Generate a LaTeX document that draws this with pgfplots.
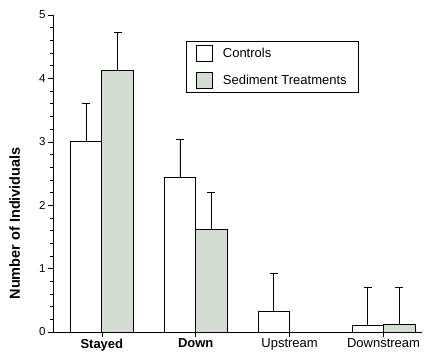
\documentclass[border=0pt]{standalone}
\usepackage{pgfplots}
\pgfplotsset{compat=1.18}
\usepackage{fontspec}
\setmainfont{Liberation Sans}
\definecolor{sedfill}{RGB}{212,219,211}
\begin{document}
\begin{tikzpicture}
\useasboundingbox (-53pt,-22pt) rectangle (375pt,332pt);
\begin{axis}[
  at={(0,0)}, anchor=south west,
  scale only axis,
  width=369pt, height=317pt,
  xmin=-0.52, xmax=3.41,
  ymin=0, ymax=5,
  axis x line=bottom, axis y line=left,
  axis line style={-, line width=0.8pt},
  xtick={0,1,2,3},
  xticklabels={\textbf{Stayed},\textbf{Down},Upstream,Downstream},
  ytick={0,1,2,3,4,5},
  minor y tick num=4,
  tick align=outside,
  major tick length=5pt,
  minor tick length=3pt,
  tick style={black, line width=0.6pt},
  /pgf/number format/assume math mode=true,
  x tick label style={font=\fontsize{13}{15}\selectfont, yshift=1.5pt},
  y tick label style={font=\fontsize{11.5}{13}\selectfont, xshift=1pt},
  ylabel={\textbf{Number of Individuals}},
  ylabel style={at={(axis description cs:-0.104,0.343)}, anchor=center, font=\fontsize{14.5}{16}\selectfont},
  ybar, bar width=0.336, bar shift=0pt,
  legend style={at={(0.36,0.918)}, anchor=north west, draw=black, line width=0.7pt,
    inner xsep=10pt, inner ysep=4pt, row sep=10pt,
    font=\fontsize{13}{15}\selectfont, /tikz/every odd column/.append style={column sep=8pt}},
  legend cell align=left,
  legend image code/.code={\draw[#1, line width=0.7pt] (0pt,-8pt) rectangle (16pt,8pt);},
  error bars/y dir=plus, error bars/y explicit,
  error bars/error mark options={rotate=90, mark size=4pt, line width=0.7pt, black},
  error bars/error bar style={line width=0.7pt, black},
]
\addplot[draw=black, fill=white, line width=0.7pt] coordinates {
  (-0.168,3.00) +- (0,0.60)
  (0.832,2.44) +- (0,0.60)
  (1.832,0.32) +- (0,0.61)
  (2.832,0.10) +- (0,0.61)
};
\addlegendentry{Controls}
\addplot[draw=black, fill=sedfill, line width=0.7pt] coordinates {
  (0.168,4.12) +- (0,0.60)
  (1.168,1.62) +- (0,0.59)
  (3.168,0.12) +- (0,0.59)
};
\addlegendentry{Sediment Treatments}
\end{axis}
\end{tikzpicture}
\end{document}
